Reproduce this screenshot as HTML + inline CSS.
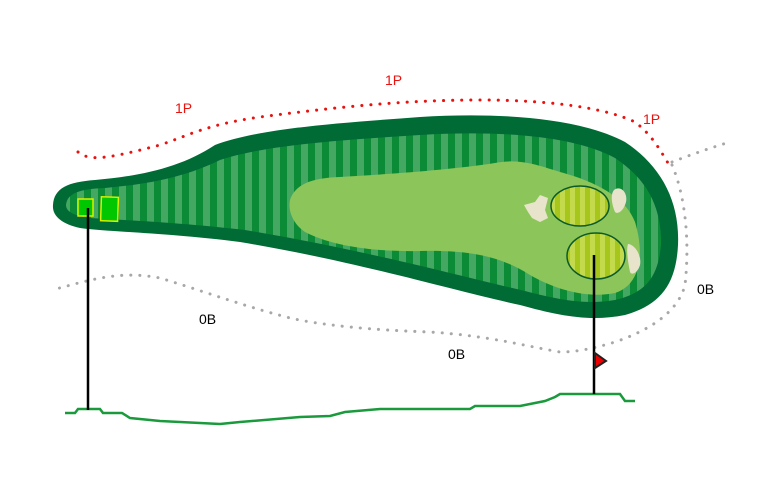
<!DOCTYPE html>
<html><head><meta charset="utf-8"><style>html,body{margin:0;padding:0;background:#fff}svg{display:block}</style></head>
<body>
<svg width="780" height="500" viewBox="0 0 780 500" xmlns="http://www.w3.org/2000/svg">
<defs>
<pattern id="st" width="14" height="10" patternUnits="userSpaceOnUse"><rect width="14" height="10" fill="#45a862"/><rect width="7" height="10" fill="#0c8b37"/></pattern>
<pattern id="gs" width="10" height="10" patternUnits="userSpaceOnUse"><rect width="10" height="10" fill="#a6c61c"/><rect width="5" height="10" fill="#c3da4c"/></pattern>
</defs>
<path d="M53,205 C54,188 68,182 95,180 C140,176 180,168 215,145 C260,128 340,123 420,117 C500,112 580,118 625,142 C660,165 680,200 678,245 C676,285 660,305 625,315 C590,322 560,316 520,305 C450,290 360,262 240,242 C170,233 110,232 80,228 C62,224 52,216 53,205 Z" fill="#006b35"/>
<path d="M66,205 C67,193 80,189 105,188 C150,184 185,177 220,160 C265,145 340,140 420,135 C500,130 575,136 615,158 C645,178 662,205 661,245 C658,278 645,293 615,300 C585,305 560,300 525,291 C455,275 365,250 245,230 C175,222 120,220 90,218 C75,216 66,212 66,205 Z" fill="url(#st)"/>
<path d="M290,200 C295,185 310,178 340,177 C390,174 450,170 495,163 C520,158 540,166 560,172 C590,180 625,195 635,222 C645,255 640,285 615,293 C590,298 560,292 530,275 C500,256 470,250 420,251 C370,252 330,245 305,232 C292,223 288,210 290,200 Z" fill="#8cc65a"/>
<path d="M524,205 L535,202 L540,195 L548,198 L545,210 L548,218 L540,222 L532,218 L528,212 Z" fill="#e8e4cc"/>
<path d="M614,190 C620,185 628,192 626,202 C624,210 618,215 615,212 C612,205 610,195 614,190 Z" fill="#e8e4cc"/>
<path d="M628,244 C634,244 642,255 640,265 C638,272 632,276 630,272 C628,262 626,250 628,244 Z" fill="#e8e4cc"/>
<ellipse cx="580" cy="206" rx="29" ry="20" fill="url(#gs)" stroke="#0b5a2b" stroke-width="1.5"/>
<ellipse cx="596" cy="256" rx="29" ry="23" fill="url(#gs)" stroke="#0b5a2b" stroke-width="1.5"/>
<rect x="78" y="199" width="15" height="17" fill="#00c700" stroke="#d8f000" stroke-width="1.5"/>
<rect x="101" y="197" width="17" height="24" fill="#00c700" stroke="#d8f000" stroke-width="1.5" transform="rotate(2 109 209)"/>
<path d="M78,152 C90,162 110,158 160,145 C190,135 205,125 260,117 C330,108 400,100 480,100 C560,100 610,110 635,122 C652,135 660,150 668,163" fill="none" stroke="#e8130f" stroke-width="3" stroke-dasharray="0.1 9" stroke-linecap="round"/>
<path d="M672,162 C690,155 710,148 730,142 M672,165 C685,195 690,240 685,285 C678,312 650,330 615,342 C595,348 578,352 560,352 C520,345 490,336 430,332 C370,330 320,325 290,318 C240,305 200,290 160,278 C120,270 90,280 52,290" fill="none" stroke="#a8a8a8" stroke-width="3" stroke-dasharray="0.1 9" stroke-linecap="round"/>
<polyline points="65,413 75,413 78,409 100,409 103,413 122,413 130,418 160,421 220,424 240,422 300,417 330,416 345,412 380,409 470,409 475,406 520,406 545,401 555,397 560,394 620,394 625,401 635,401" fill="none" stroke="#1a9a3c" stroke-width="2.5"/>
<line x1="88" y1="208" x2="88" y2="410" stroke="#000" stroke-width="2.5"/>
<line x1="594" y1="255" x2="594" y2="394" stroke="#000" stroke-width="2.5"/>
<path d="M595,353 L606,361 L595,368 Z" fill="#e00" stroke="#222" stroke-width="2"/>
<g font-family="Liberation Sans, sans-serif" font-size="14">
<text x="175" y="113" fill="#e8130f">1P</text>
<text x="385" y="85" fill="#e8130f">1P</text>
<text x="643" y="124" fill="#e8130f">1P</text>
<text x="199" y="324" fill="#000">0B</text>
<text x="448" y="359" fill="#000">0B</text>
<text x="697" y="294" fill="#000">0B</text>
</g>
</svg>
</body></html>
